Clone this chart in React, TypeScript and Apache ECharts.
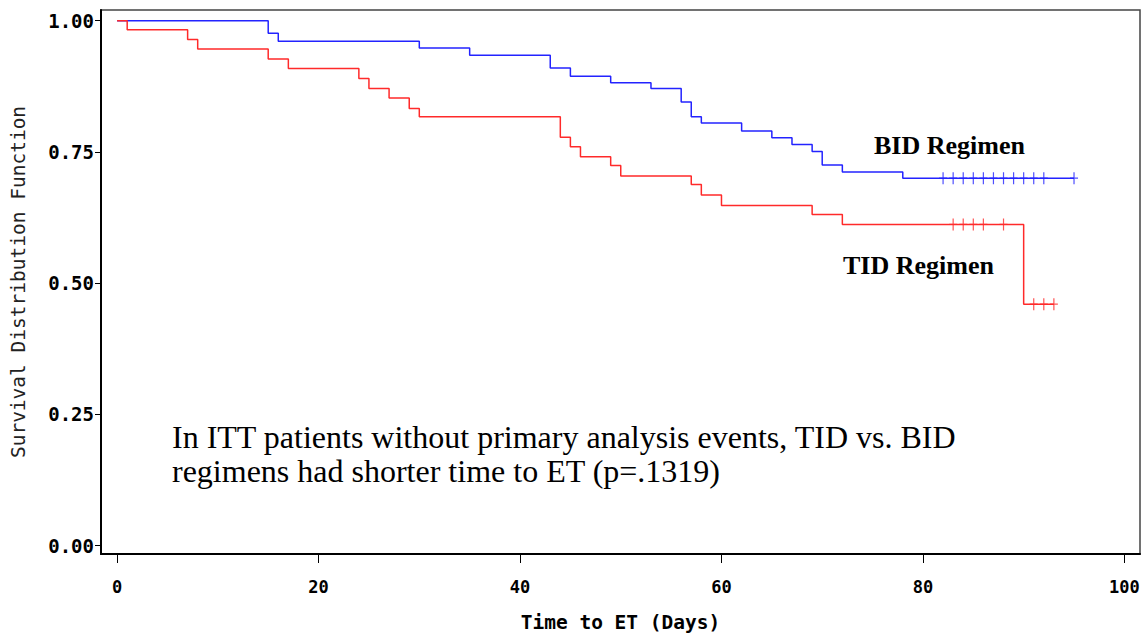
import React, { useEffect, useRef } from "react";
import * as echarts from "echarts";

// Kaplan-Meier step estimates: event times (days) and survival after each step
const bidTimes = [0, 15, 16, 30, 35, 43, 45, 49, 53, 56, 57, 58, 62, 65, 67, 69, 70, 72, 78, 95];
const bidSurvival = [1.0, 0.976, 0.961, 0.948, 0.934, 0.91, 0.894, 0.882, 0.871, 0.845, 0.817, 0.805, 0.79, 0.777, 0.764, 0.751, 0.725, 0.712, 0.7, 0.7];
const bidCensorTimes = [82, 83, 84, 85, 86, 87, 88, 89, 90, 91, 92, 95];

const tidTimes = [0, 1, 7, 8, 15, 17, 24, 25, 27, 29, 30, 44, 45, 46, 49, 50, 57, 58, 60, 69, 72, 90, 93];
const tidSurvival = [1.0, 0.983, 0.964, 0.946, 0.927, 0.909, 0.89, 0.871, 0.853, 0.833, 0.817, 0.778, 0.76, 0.741, 0.724, 0.704, 0.688, 0.668, 0.648, 0.631, 0.612, 0.46, 0.46];
const tidCensorTimes = [83, 84, 85, 86, 88, 91, 92, 93];

const xTicks = [0, 20, 40, 60, 80, 100];
const yTicks = [0, 0.25, 0.5, 0.75, 1.0];

const BLUE = "#2323ff";
const RED = "#ff2a2a";
const SAS_FONT = "'DejaVu Sans Mono', monospace";
const SERIF = "'Liberation Serif', 'Times New Roman', serif";

// "+" censoring mark
const PLUS = "path://M3.4,0H4.6V5.4H8V6.6H4.6V12H3.4V6.6H0V5.4H3.4Z";

// survival value in effect at time t (step function lookup)
function survivalAt(times: number[], surv: number[], t: number): number {
  let s = surv[0];
  for (let i = 0; i < times.length; i++) {
    if (times[i] <= t) s = surv[i];
  }
  return s;
}

function pairs(times: number[], surv: number[]) {
  return times.map((t, i) => [t, surv[i]]);
}

export default function App() {
  const ref = useRef<HTMLDivElement>(null);

  useEffect(() => {
    if (!ref.current) return;
    const chart = echarts.init(ref.current, undefined, { renderer: "svg" });

    const censorSeries = (name: string, times: number[], ctimes: number[], surv: number[], color: string) => ({
      name,
      type: "scatter",
      data: ctimes.map((t) => [t, survivalAt(times, surv, t)]),
      symbol: PLUS,
      symbolSize: [8, 12],
      symbolKeepAspect: false,
      itemStyle: { color },
      z: 4,
      silent: true,
    });

    chart.setOption({
      animation: false,
      backgroundColor: "#ffffff",
      grid: {
        left: 101,
        top: 10,
        right: 6,
        bottom: 79,
        show: true,
        borderColor: "#444",
        borderWidth: 1.5,
        containLabel: false,
        outerBoundsMode: "none",
      },
      xAxis: {
        type: "value",
        min: -1.6,
        max: 101.55,
        name: "Time to ET (Days)",
        nameLocation: "middle",
        nameGap: 58,
        nameTextStyle: { fontFamily: SAS_FONT, fontSize: 19.5, fontWeight: "bold", color: "#000" },
        axisLine: { show: true, onZero: false, lineStyle: { color: "#000", width: 2 } },
        axisTick: { show: true, length: 9, customValues: xTicks, lineStyle: { color: "#000", width: 1 } },
        axisLabel: {
          customValues: xTicks,
          margin: 24,
          fontFamily: SAS_FONT,
          fontSize: 17,
          fontWeight: "bold",
          color: "#000",
        },
        splitLine: { show: false },
      },
      yAxis: {
        type: "value",
        min: -0.0158,
        max: 1.0204,
        name: "Survival Distribution Function",
        nameLocation: "middle",
        nameGap: 73,
        nameTextStyle: { fontFamily: SAS_FONT, fontSize: 19.5, color: "#222" },
        axisLine: { show: true, onZero: false, lineStyle: { color: "#000", width: 2 } },
        axisTick: { show: true, length: 6, customValues: yTicks, lineStyle: { color: "#000", width: 1 } },
        axisLabel: {
          customValues: yTicks,
          margin: 7,
          formatter: (v: number) => v.toFixed(2),
          fontFamily: SAS_FONT,
          fontSize: 19,
          fontWeight: "bold",
          color: "#000",
        },
        splitLine: { show: false },
      },
      series: [
        {
          name: "BID Regimen",
          type: "line",
          step: "end",
          data: pairs(bidTimes, bidSurvival),
          showSymbol: false,
          lineStyle: { color: BLUE, width: 1.5 },
          z: 3,
          silent: true,
        },
        {
          name: "TID Regimen",
          type: "line",
          step: "end",
          data: pairs(tidTimes, tidSurvival),
          showSymbol: false,
          lineStyle: { color: RED, width: 1.5 },
          z: 3,
          silent: true,
        },
        censorSeries("BID censored", bidTimes, bidCensorTimes, bidSurvival, BLUE),
        censorSeries("TID censored", tidTimes, tidCensorTimes, tidSurvival, RED),
      ],
      graphic: [
        {
          type: "text",
          x: 874,
          y: 145,
          style: {
            text: "BID Regimen",
            font: `bold 26px ${SERIF}`,
            fill: "#000",
            align: "left",
            verticalAlign: "middle",
          },
        },
        {
          type: "text",
          x: 843,
          y: 265,
          style: {
            text: "TID Regimen",
            font: `bold 26px ${SERIF}`,
            fill: "#000",
            align: "left",
            verticalAlign: "middle",
          },
        },
        {
          type: "text",
          x: 172,
          y: 437,
          style: {
            text: "In ITT patients without primary analysis events, TID vs. BID",
            font: `32px ${SERIF}`,
            fill: "#000",
            align: "left",
            verticalAlign: "middle",
          },
        },
        {
          type: "text",
          x: 172,
          y: 471,
          style: {
            text: "regimens had shorter time to ET (p=.1319)",
            font: `32px ${SERIF}`,
            fill: "#000",
            align: "left",
            verticalAlign: "middle",
          },
        },
      ],
    });

    return () => chart.dispose();
  }, []);

  return (
    <div
      ref={ref}
      style={{ position: "fixed", left: 0, top: 0, width: 1146, height: 633, background: "#fff" }}
    />
  );
}
